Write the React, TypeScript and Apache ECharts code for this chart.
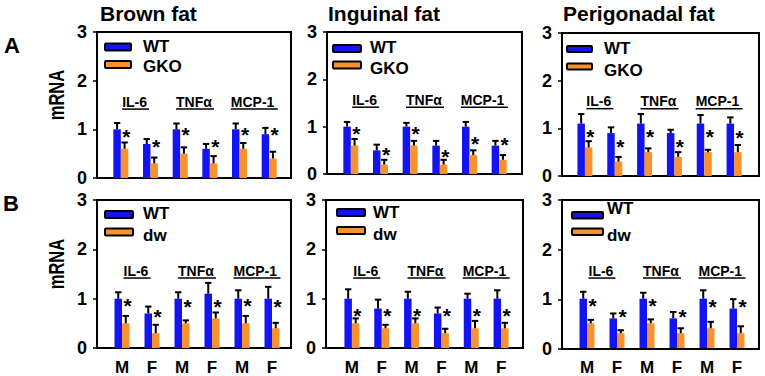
import React, { useEffect, useRef } from 'react';
import * as echarts from 'echarts';

// ---------- data ----------
const CATEGORIES = ['M', 'F', 'M', 'F', 'M', 'F'];
const GROUPS = ['IL-6', 'TNFα', 'MCP-1'];
const PANEL_TITLES = ['Brown fat', 'Inguinal fat', 'Perigonadal fat'];
const ROW_LABELS = ['A', 'B'];
const CONTROL = 'WT';
const MUTANTS = ['GKO', 'dw'];
const Y_NAME = 'mRNA';

// Row A: WT vs GKO
const BROWN_A_WT = [1.0, 0.7, 1.0, 0.6, 1.0, 0.9];
const BROWN_A_WT_ERR = [0.13, 0.1, 0.12, 0.1, 0.12, 0.13];
const BROWN_A_KO = [0.6, 0.3, 0.5, 0.3, 0.6, 0.4];
const BROWN_A_KO_ERR = [0.13, 0.12, 0.13, 0.15, 0.12, 0.14];
const BROWN_A_STAR = [0.96, 0.76, 0.99, 0.75, 0.99, 0.99];

const ING_A_WT = [1.0, 0.5, 1.0, 0.6, 1.0, 0.6];
const ING_A_WT_ERR = [0.1, 0.12, 0.08, 0.1, 0.1, 0.1];
const ING_A_KO = [0.6, 0.2, 0.6, 0.2, 0.4, 0.3];
const ING_A_KO_ERR = [0.14, 0.1, 0.1, 0.1, 0.1, 0.1];
const ING_A_STAR = [0.97, 0.51, 0.97, 0.47, 0.75, 0.72];

const PERI_A_WT = [1.1, 0.9, 1.1, 0.9, 1.1, 1.1];
const PERI_A_WT_ERR = [0.2, 0.12, 0.2, 0.07, 0.18, 0.13];
const PERI_A_KO = [0.6, 0.3, 0.5, 0.4, 0.5, 0.5];
const PERI_A_KO_ERR = [0.13, 0.1, 0.08, 0.1, 0.05, 0.15];
const PERI_A_STAR = [0.93, 0.72, 0.94, 0.72, 0.94, 0.91];

// Row B: WT vs dw
const BROWN_B_WT = [1.0, 0.7, 1.0, 1.1, 1.0, 1.0];
const BROWN_B_WT_ERR = [0.13, 0.14, 0.13, 0.22, 0.17, 0.24];
const BROWN_B_KO = [0.5, 0.3, 0.5, 0.6, 0.5, 0.4];
const BROWN_B_KO_ERR = [0.15, 0.17, 0.06, 0.12, 0.15, 0.11];
const BROWN_B_STAR = [0.97, 0.75, 0.95, 0.94, 0.97, 0.95];

const ING_B_WT = [1.0, 0.8, 1.0, 0.7, 1.0, 1.0];
const ING_B_WT_ERR = [0.19, 0.18, 0.14, 0.12, 0.1, 0.17];
const ING_B_KO = [0.5, 0.4, 0.5, 0.3, 0.4, 0.4];
const ING_B_KO_ERR = [0.1, 0.07, 0.1, 0.09, 0.15, 0.11];
const ING_B_STAR = [0.76, 0.76, 0.76, 0.76, 0.76, 0.76];

const PERI_B_WT = [1.0, 0.6, 1.0, 0.6, 1.0, 0.8];
const PERI_B_WT_ERR = [0.14, 0.1, 0.12, 0.13, 0.17, 0.19];
const PERI_B_KO = [0.5, 0.3, 0.5, 0.3, 0.4, 0.3];
const PERI_B_KO_ERR = [0.07, 0.06, 0.08, 0.1, 0.13, 0.14];
const PERI_B_STAR = [0.97, 0.75, 0.97, 0.73, 0.95, 0.95];

const GROUP_LABEL_Y = 1.57;

// ---------- layout / style ----------
const BLUE = '#1414F0';
const ORANGE = '#F7922E';
const FONT = 'Liberation Sans, Arial, sans-serif';

// frame [left, right, top, bottom]
const FRAMES = [
  [97, 291, 32, 178],
  [327, 522, 32, 174],
  [562, 759, 33, 176],
  [97, 291, 200, 348],
  [326, 523, 200, 348],
  [562, 759, 200, 349],
];
// bar area [left, right]
const BAR_X = [
  [106, 284],
  [336, 514],
  [570, 749],
  [107, 287],
  [337, 516],
  [572, 752],
];
// legend key: [boxX, boxW, boxH, box1Y, box2Y, textX, text1Y, text2Y]
const LEGEND_BOX = [
  [105, 26, 7, 43.5, 61, 143, 46, 66.5],
  [333, 28, 7, 45, 61.5, 370, 47, 68],
  [567, 25, 6, 46, 63.5, 604, 48.5, 70],
  [105, 28, 7, 211, 228.5, 143, 213.5, 235],
  [337, 28, 7, 209, 227, 373, 212, 234.5],
  [572, 31, 6.5, 212, 228.5, 607, 208.5, 235],
];
const TITLE_X = [100, 328, 563];
const UNDERLINE_W = [27, 38, 47];

const PANELS = [
  { wt: BROWN_A_WT, wtErr: BROWN_A_WT_ERR, ko: BROWN_A_KO, koErr: BROWN_A_KO_ERR, star: BROWN_A_STAR },
  { wt: ING_A_WT, wtErr: ING_A_WT_ERR, ko: ING_A_KO, koErr: ING_A_KO_ERR, star: ING_A_STAR },
  { wt: PERI_A_WT, wtErr: PERI_A_WT_ERR, ko: PERI_A_KO, koErr: PERI_A_KO_ERR, star: PERI_A_STAR },
  { wt: BROWN_B_WT, wtErr: BROWN_B_WT_ERR, ko: BROWN_B_KO, koErr: BROWN_B_KO_ERR, star: BROWN_B_STAR },
  { wt: ING_B_WT, wtErr: ING_B_WT_ERR, ko: ING_B_KO, koErr: ING_B_KO_ERR, star: ING_B_STAR },
  { wt: PERI_B_WT, wtErr: PERI_B_WT_ERR, ko: PERI_B_KO, koErr: PERI_B_KO_ERR, star: PERI_B_STAR },
];

const BAR_W = 7.5;

function buildOption() {
  const grid: any[] = [];
  const xAxis: any[] = [];
  const yAxis: any[] = [];
  const series: any[] = [];
  const graphic: any[] = [];

  PANELS.forEach((p, i) => {
    const row = i < 3 ? 0 : 1;
    const [fl, fr, ft, fb] = FRAMES[i];
    const [bl, br] = BAR_X[i];
    const fg = 2 * i;
    const bg = 2 * i + 1;
    grid.push({ left: fl, top: ft, width: fr - fl, height: fb - ft, show: true, borderColor: '#000', borderWidth: 2, backgroundColor: 'transparent' });
    grid.push({ left: bl, top: ft, width: br - bl, height: fb - ft });
    xAxis.push({ gridIndex: fg, type: 'value', min: 0, max: 1, show: false });
    yAxis.push({
      gridIndex: fg, type: 'value', min: 0, max: 3, interval: 1,
      axisLine: { show: false },
      axisTick: { show: true, length: 4, lineStyle: { color: '#000', width: 1.5 } },
      splitLine: { show: false },
      axisLabel: { fontSize: 18, fontWeight: 'bold', color: '#000', margin: 10, fontFamily: FONT },
    });
    xAxis.push({
      gridIndex: bg, type: 'category', data: CATEGORIES,
      axisLine: { show: false }, axisTick: { show: false }, splitLine: { show: false },
      axisLabel: { show: row === 1, fontSize: 17, fontWeight: 'bold', color: '#000', margin: 11, fontFamily: FONT },
    });
    yAxis.push({ gridIndex: bg, type: 'value', min: 0, max: 3, show: false, splitLine: { show: false } });

    series.push({
      type: 'bar', name: CONTROL, xAxisIndex: bg, yAxisIndex: bg, data: p.wt,
      barWidth: BAR_W, barGap: '0%', itemStyle: { color: BLUE },
    });
    series.push({
      type: 'bar', name: MUTANTS[row], xAxisIndex: bg, yAxisIndex: bg, data: p.ko,
      barWidth: BAR_W, barGap: '0%', itemStyle: { color: ORANGE },
    });
    series.push({
      type: 'custom', xAxisIndex: bg, yAxisIndex: bg, silent: true, z: 5,
      encode: { x: 0, y: 1 },
      data: p.wt.map((v, k) => [k, v, p.wtErr[k], p.ko[k], p.koErr[k], p.star[k]]),
      renderItem: (params: any, api: any) => {
        const c = api.value(0);
        const half = BAR_W / 2;
        const eb = (val: number, err: number, dx: number) => {
          const p0 = api.coord([c, val]);
          const p1 = api.coord([c, val + err]);
          const x = p0[0] + dx;
          return [
            { type: 'line', shape: { x1: x, y1: p0[1], x2: x, y2: p1[1] }, style: { stroke: '#000', lineWidth: 2 } },
            { type: 'line', shape: { x1: x - 3.2, y1: p1[1], x2: x + 3.2, y2: p1[1] }, style: { stroke: '#000', lineWidth: 2 } },
          ];
        };
        const ps = api.coord([c, api.value(5)]);
        return {
          type: 'group',
          children: [
            ...eb(api.value(1), api.value(2), -half),
            ...eb(api.value(3), api.value(4), half),
            {
              type: 'text', x: ps[0] + 5.5, y: ps[1] + 5,
              style: { text: '*', fontSize: 21, fontWeight: 'bold', fill: '#000', align: 'center', verticalAlign: 'middle', fontFamily: FONT },
            },
          ],
        };
      },
    });
    series.push({
      type: 'custom', xAxisIndex: bg, yAxisIndex: bg, silent: true, z: 5,
      encode: { x: 0, y: 1 },
      data: GROUPS.map((g, k) => [2 * k, GROUP_LABEL_Y]),
      renderItem: (params: any, api: any) => {
        const a = api.coord([api.value(0), api.value(1)]);
        const b = api.coord([api.value(0) + 1, api.value(1)]);
        const cx = (a[0] + b[0]) / 2;
        const w = UNDERLINE_W[params.dataIndex];
        const x0 = cx - w / 2;
        return {
          type: 'group',
          children: [
            {
              type: 'text', x: x0, y: a[1],
              style: { text: GROUPS[params.dataIndex], fontSize: 14, fontWeight: 'bold', fill: '#000', align: 'left', verticalAlign: 'middle', fontFamily: FONT },
            },
            { type: 'line', shape: { x1: x0, y1: a[1] + 7.5, x2: x0 + w, y2: a[1] + 7.5 }, style: { stroke: '#000', lineWidth: 1.5 } },
          ],
        };
      },
    });

    // legend key (boxes with black outline + labels)
    const [bx, bw, bh, by1, by2, tx, ty1, ty2] = LEGEND_BOX[i];
    const names = [CONTROL, MUTANTS[row]];
    const colors = [BLUE, ORANGE];
    [by1, by2].forEach((by, k) => {
      graphic.push({
        type: 'rect', shape: { x: bx, y: by, width: bw, height: bh, r: 1 },
        style: { fill: colors[k], stroke: '#000', lineWidth: 2 },
      });
      graphic.push({
        type: 'text', x: tx, y: k === 0 ? ty1 : ty2,
        style: { text: names[k], fontSize: 17, fontWeight: 'bold', fill: '#000', align: 'left', verticalAlign: 'middle', fontFamily: FONT },
      });
    });
  });

  const title: any[] = PANEL_TITLES.map((t, k) => ({
    text: t, left: TITLE_X[k], top: 3, padding: 0,
    textStyle: { fontSize: 21, fontWeight: 'bold', color: '#000', fontFamily: FONT },
  }));
  title.push({ text: ROW_LABELS[0], left: 4, top: 34, padding: 0, textStyle: { fontSize: 22, fontWeight: 'bold', color: '#000', fontFamily: FONT } });
  title.push({ text: ROW_LABELS[1], left: 3, top: 192, padding: 0, textStyle: { fontSize: 22, fontWeight: 'bold', color: '#000', fontFamily: FONT } });

  [95, 264].forEach((cy) => {
    graphic.push({
      type: 'text', x: 56, y: cy, rotation: Math.PI / 2, scaleX: 0.75,
      style: { text: Y_NAME, fontSize: 22, fontWeight: 'bold', fill: '#000', align: 'center', verticalAlign: 'middle', fontFamily: FONT },
    });
  });

  return {
    animation: false,
    backgroundColor: '#fff',
    textStyle: { fontFamily: FONT },
    title, grid, xAxis, yAxis, series, graphic,
  };
}

export default function App() {
  const ref = useRef<HTMLDivElement>(null);
  useEffect(() => {
    if (!ref.current) return;
    const chart = echarts.init(ref.current, undefined, { renderer: 'svg' });
    chart.setOption(buildOption() as any);
    return () => chart.dispose();
  }, []);
  return <div ref={ref} style={{ position: 'absolute', left: 0, top: 0, width: 765, height: 376 }} />;
}
